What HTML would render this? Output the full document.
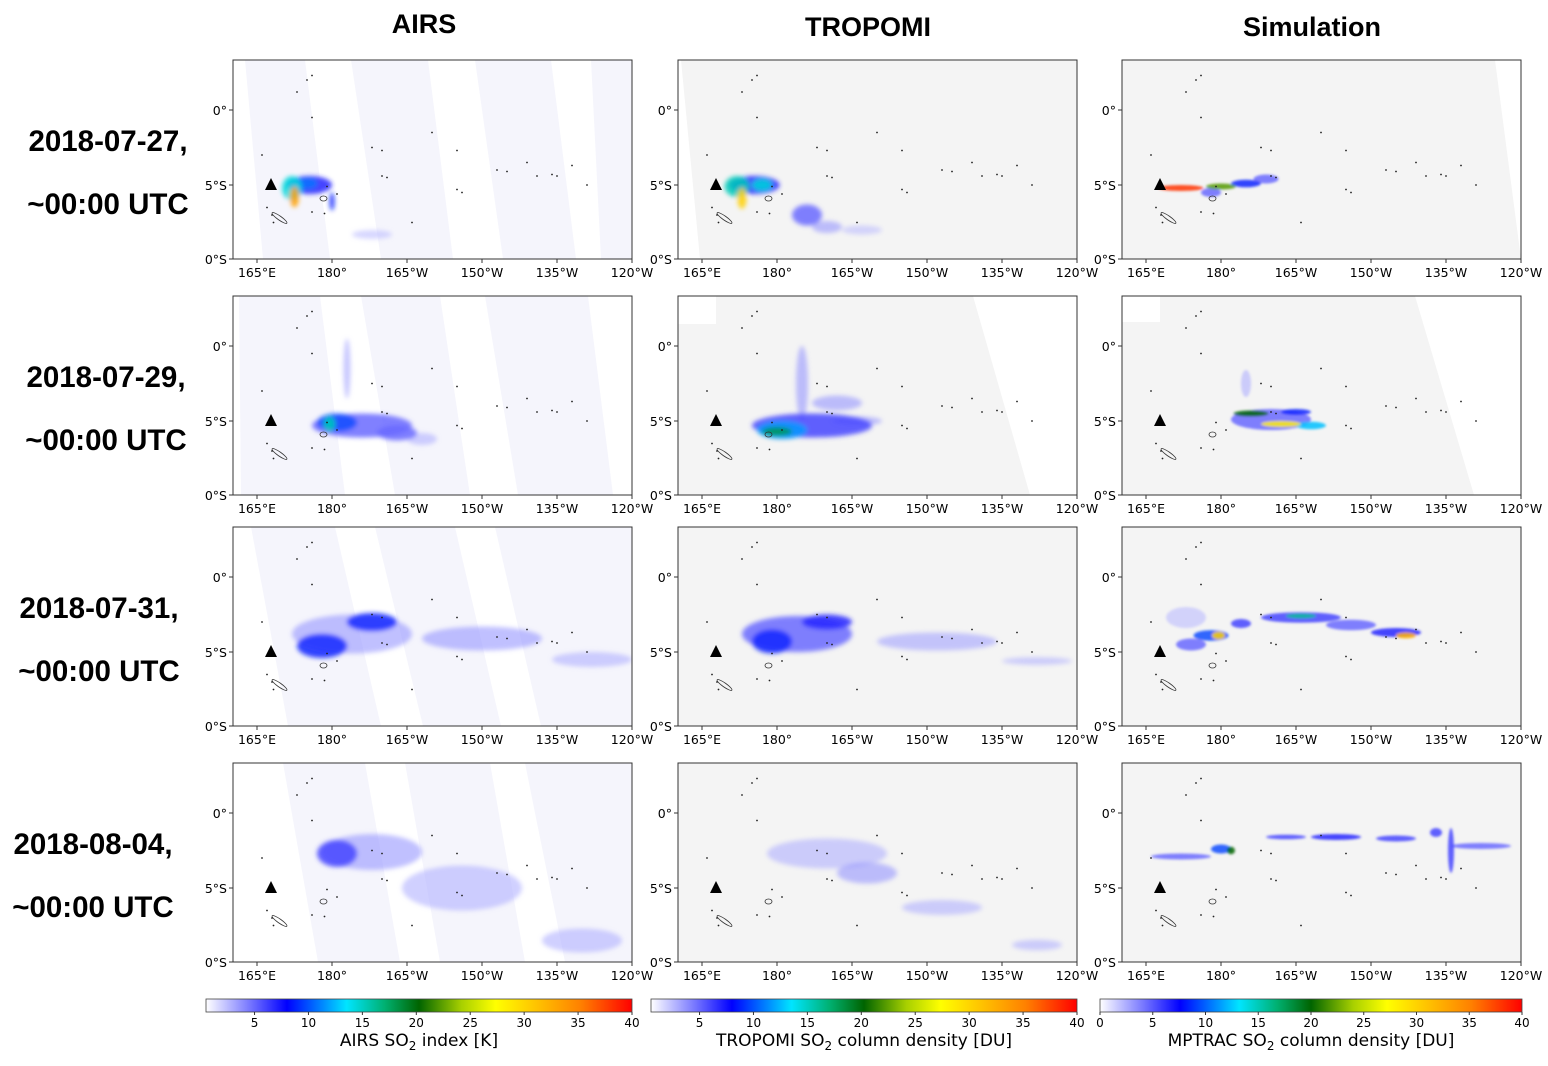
<!DOCTYPE html>
<html><head><meta charset="utf-8">
<style>
html,body{margin:0;padding:0;background:#fff;}
svg{display:block;font-family:"DejaVu Sans","Liberation Sans",sans-serif;}
.t{font-size:12.5px;fill:#000;}
.row{font-family:"Liberation Sans",sans-serif;font-weight:bold;font-size:29.5px;}
.col{font-family:"Liberation Sans",sans-serif;font-weight:bold;font-size:27px;}
</style></head>
<body>
<svg id="fig" width="1548" height="1066" viewBox="0 0 1548 1066" xmlns="http://www.w3.org/2000/svg">
<defs>
<filter id="blurA" x="-50%" y="-50%" width="200%" height="200%"><feGaussianBlur stdDeviation="2.5"/></filter>
<filter id="blurS" x="-50%" y="-50%" width="200%" height="200%"><feGaussianBlur stdDeviation="1.2"/></filter>
<linearGradient id="cmap" x1="0" x2="1" y1="0" y2="0">
<stop offset="0" stop-color="#ffffff"/><stop offset="0.1" stop-color="#7b7bff"/><stop offset="0.19" stop-color="#0000ff"/>
<stop offset="0.33" stop-color="#00e5ff"/><stop offset="0.42" stop-color="#00b070"/><stop offset="0.5" stop-color="#006400"/>
<stop offset="0.6" stop-color="#a8d000"/><stop offset="0.68" stop-color="#ffff00"/><stop offset="0.78" stop-color="#ffc000"/>
<stop offset="0.88" stop-color="#ff8000"/><stop offset="1" stop-color="#ff0000"/>
</linearGradient>
</defs>
</svg>
<script>
// ---- data ----
const columns = ["AIRS","TROPOMI","Simulation"];
const dates = ["2018-07-27,","2018-07-29,","2018-07-31,","2018-08-04,"];
const xTickLabels = ["165°E","180°","165°W","150°W","135°W","120°W"];
const xTickLons = [165,180,195,210,225,240];
const yTickLabels = ["0°","5°S","0°S"];
const yTickLats = [0,-5,-10];
const cbTicks = [[5,10,15,20,25,30,35,40],[5,10,15,20,25,30,35,40],[0,5,10,15,20,25,30,35,40]];
const cbMin = [0.5,0.5,0];
const cbLabels = ["AIRS SO","TROPOMI SO","MPTRAC SO"];
const cbUnits = [" index [K]"," column density [DU]"," column density [DU]"];
// plume blobs: [lon, lat, rx(deg), ry(deg), value]
const plumes = [
 [ // 07-27
  [[175.5,-5.0,4.5,0.6,7],[172,-5.2,2,0.8,14],[175,-4.9,2,0.35,10],[172.5,-5.8,0.9,0.7,33],[180,-6.1,0.5,0.6,8],[188,-8.3,4,0.3,2.5]],
  [[175.5,-5,5,0.6,7],[172,-5.1,2.5,0.7,15],[173,-5.9,0.9,0.7,30],[177,-5,2,0.4,14],[186,-7,3,0.7,5],[190,-7.8,3,0.4,4],[197,-8,4,0.3,2.5]],
  [[172,-5.2,4.5,0.2,38],[180,-5.1,3,0.2,22],[185,-4.9,3,0.25,8],[189,-4.6,2.5,0.3,5],[178,-5.5,2,0.3,5]]
 ],
 [ // 07-29
  [[186,-5.3,10,0.8,5],[181,-5.1,4,0.6,9],[179.5,-5.2,1.2,0.5,15],[183,-1.5,0.7,2,3.5],[193,-5.8,4,0.5,5],[198,-6.2,3,0.4,3]],
  [[187,-5.3,12,0.8,6],[181,-5.6,5,0.6,11],[180,-5.7,3,0.3,18],[185,-2.5,1.2,2.5,4],[192,-3.8,5,0.5,4],[196,-5,5,0.3,4]],
  [[190,-4.9,8,0.7,5],[186,-4.5,3.5,0.2,20],[192,-5.2,4,0.2,28],[185,-2.5,1,0.9,3],[198,-5.3,3,0.25,12],[195,-4.4,3,0.2,8]]
 ],
 [ // 07-31
  [[184,-3.8,12,1.3,4],[178,-4.6,5,0.8,8],[188,-3,5,0.6,8],[210,-4.1,12,0.8,4],[232,-5.5,8,0.5,3]],
  [[184,-3.8,11,1.2,5],[179,-4.3,4,0.8,8],[190,-3,5,0.5,7],[212,-4.3,12,0.6,3.5],[232,-5.6,7,0.25,3]],
  [[173,-2.7,4,0.7,2.5],[174,-4.5,3,0.4,5],[178,-3.9,3.5,0.35,9],[179.5,-3.9,1.3,0.25,30],[184,-3.1,2,0.3,6],[196,-2.7,8,0.35,6],[196,-2.6,3,0.15,16],[206,-3.2,5,0.35,5],[215,-3.7,5,0.3,7],[217,-3.9,2,0.2,32]]
 ],
 [ // 08-04
  [[188,-2.6,10,1.2,4],[181,-2.7,4,0.9,6],[206,-5,12,1.5,3],[230,-8.5,8,0.8,3]],
  [[190,-2.7,12,1.0,3],[198,-4,6,0.7,4],[213,-6.3,8,0.5,3],[232,-8.8,5,0.35,3]],
  [[172,-2.9,6,0.2,5],[180,-2.4,2,0.3,9],[182,-2.5,0.8,0.25,20],[193,-1.6,4,0.15,6],[203,-1.6,5,0.2,7],[215,-1.7,4,0.2,6],[223,-1.3,1.2,0.3,6],[226,-2.5,0.6,1.5,6],[232,-2.2,6,0.2,5]]
 ]
];
// islands [lon, lat]
const islands = [[166,-3],[167,-6.5],[168,-7],[168.3,-7.5],[176,-6.8],[178.5,-6.9],[179,-5.1],[181,-5.6],[190,-4.4],[191,-4.5],[196,-7.5],[200,-1.5],[205,-5.3],[206,-5.5],[213,-4],[215,-4.1],[219,-3.5],[221,-4.4],[224,-4.3],[225,-4.4],[228,-3.7],[231,-5],[173,1.2],[175,2],[176,2.3],[176,-0.5],[188,-2.5],[190,-2.7],[205,-2.7]];

// ---- layout ----
const svg = document.getElementById('fig');
const NS = "http://www.w3.org/2000/svg";
const colX = [233,678,1122], rowY = [60,296,527,763], PW = 399, PH = 199;
const rowLabelX = [108,106,99,93];
function mk(tag, attrs, parent){const e=document.createElementNS(NS,tag);for(const k in attrs)e.setAttribute(k,attrs[k]);(parent||svg).appendChild(e);return e;}
function lonX(x0,lon){return x0+24+(lon-165)*5;}
function latY(y0,lat){return y0+50-lat*15;}
const stops=[[0,[255,255,255]],[4,[140,140,255]],[7.5,[20,20,255]],[13,[0,229,255]],[17,[0,176,112]],[20,[0,100,0]],[24,[168,208,0]],[27,[255,255,0]],[31,[255,192,0]],[35,[255,128,0]],[40,[255,0,0]]];
function cmap(v){for(let i=1;i<stops.length;i++){if(v<=stops[i][0]){const a=stops[i-1],b=stops[i],t=(v-a[0])/(b[0]-a[0]);return 'rgb('+a[1].map((c,j)=>Math.round(c+(b[1][j]-c)*t)).join(',')+')';}}return 'rgb(255,0,0)';}

// swaths (white gaps), panel-relative [[topL,topR],[botL,botR]]
const gaps = [
 [[[0,12],[0,30]],[[72,118],[97,148]],[[195,242],[220,270]],[[318,358],[343,368]]],
 [[[0,6],[0,8]],[[87,128],[112,162]],[[207,252],[237,285]],[[355,399],[380,399]]],
 [[[0,18],[0,55]],[[102,142],[148,190]],[[222,262],[268,308]]],
 [[[0,50],[0,85]],[[132,172],[167,207]],[[257,292],[292,332]]]
];

dates.forEach((d,r)=>{
  const y0=rowY[r];
  const l1=mk('text',{x:rowLabelX[r],y:y0+91,'text-anchor':'middle',class:'row'});l1.textContent=d;
  
  
  const l2=mk('text',{x:rowLabelX[r],y:y0+154,'text-anchor':'middle',class:'row'});l2.textContent='~00:00 UTC';
  
  
  columns.forEach((c,ci)=>{
    const x0=colX[ci];
    const g=mk('g',{});
    
    
    const cid='clip'+r+ci;
    const cp=mk('clipPath',{id:cid},g);mk('rect',{x:x0,y:y0,width:PW,height:PH},cp);
    const inner=mk('g',{'clip-path':'url(#'+cid+')'},g);
    mk('rect',{x:x0,y:y0,width:PW,height:PH,fill:ci==0?'#f5f5fc':'#f4f4f4'},inner);
    if(ci==0){
      gaps[r].forEach(gp=>{mk('polygon',{points:`${x0+gp[0][0]},${y0} ${x0+gp[0][1]},${y0} ${x0+gp[1][1]},${y0+PH} ${x0+gp[1][0]},${y0+PH}`,fill:'#fff'},inner);});
    } else if(ci==1){
      if(r==0){mk('polygon',{points:`${x0},${y0} ${x0+3},${y0} ${x0+22},${y0+PH} ${x0},${y0+PH}`,fill:'#fff'},inner);}
      if(r==1){mk('rect',{x:x0,y:y0,width:38,height:28,fill:'#fff'},inner);
        mk('polygon',{points:`${x0+295},${y0} ${x0+PW},${y0} ${x0+PW},${y0+PH} ${x0+352},${y0+PH}`,fill:'#fff'},inner);}
    } else {
      if(r==0){mk('polygon',{points:`${x0+373},${y0} ${x0+PW},${y0} ${x0+PW},${y0+PH}`,fill:'#fff'},inner);}
      if(r==1){mk('rect',{x:x0,y:y0,width:38,height:26,fill:'#fff'},inner);
        mk('polygon',{points:`${x0+293},${y0} ${x0+PW},${y0} ${x0+PW},${y0+PH} ${x0+352},${y0+PH}`,fill:'#fff'},inner);}
    }
    const pg=mk('g',{filter:ci==2?'url(#blurS)':'url(#blurA)'},inner);
    plumes[r][ci].slice().sort((a,b)=>a[4]-b[4]).forEach((b,bi)=>{
      const e=mk('ellipse',{cx:lonX(x0,b[0]),cy:latY(y0,b[1]),rx:b[2]*5,ry:b[3]*15,fill:cmap(b[4]),opacity:b[4]<5?0.55:0.85},pg);
      
      
    });
    islands.forEach(p=>{mk('circle',{cx:lonX(x0,p[0]),cy:latY(y0,p[1]),r:0.9,fill:'#222'},inner);});
    mk('ellipse',{cx:lonX(x0,169.5),cy:latY(y0,-7.2),rx:9,ry:2,transform:`rotate(35 ${lonX(x0,169.5)} ${latY(y0,-7.2)})`,fill:'none',stroke:'#333','stroke-width':0.8},inner);
    mk('ellipse',{cx:lonX(x0,178.3),cy:latY(y0,-5.9),rx:3.5,ry:2.5,fill:'none',stroke:'#333','stroke-width':0.8},inner);
    const tx=lonX(x0,167.8),ty=latY(y0,-5);
    const tri=mk('polygon',{points:`${tx},${ty-7} ${tx-6},${ty+5} ${tx+6},${ty+5}`,fill:'#000'},inner);
    
    
    mk('rect',{x:x0,y:y0,width:PW,height:PH,fill:'none',stroke:'#333','stroke-width':1},g);
    xTickLons.forEach((lon,i)=>{
      const x=lonX(x0,lon);
      mk('line',{x1:x,x2:x,y1:y0+PH,y2:y0+PH+4,stroke:'#333'},g);
      const t=mk('text',{x:x,y:y0+PH+18,'text-anchor':'middle',class:'t'},g);t.textContent=xTickLabels[i];
      
      
    });
    yTickLats.forEach((lat,i)=>{
      const y=Math.min(latY(y0,lat),y0+PH);
      mk('line',{x1:x0-4,x2:x0,y1:y,y2:y,stroke:'#333'},g);
      const t=mk('text',{x:x0-6,y:y+5,'text-anchor':'end',class:'t'},g);t.textContent=yTickLabels[i];
      
      
    });
  });
});
// column titles
[[424,33],[868,36],[1312,36]].forEach((p,i)=>{
  const t=mk('text',{x:p[0],y:p[1],'text-anchor':'middle',class:'col'});t.textContent=columns[i];
  
  
});
// colorbars
const cbX=[[206,632],[651,1077],[1100,1522]];
cbX.forEach((cx,i)=>{
  const g=mk('g',{});
  
  
  mk('rect',{x:cx[0],y:999,width:cx[1]-cx[0],height:13,fill:'url(#cmap)',stroke:'#444','stroke-width':0.8},g);
  cbTicks[i].forEach(v=>{
    const x=cx[0]+(v-cbMin[i])/(40-cbMin[i])*(cx[1]-cx[0]);
    mk('line',{x1:x,x2:x,y1:1012,y2:1015,stroke:'#333'},g);
    const t=mk('text',{x:x,y:1027,'text-anchor':'middle',class:'t',style:'font-size:12px'},g);t.textContent=v;
    
    
  });
  const lb=mk('text',{x:(cx[0]+cx[1])/2,y:1046,'text-anchor':'middle',style:'font-size:17px'},g);
  lb.innerHTML=cbLabels[i]+'<tspan dy="4" font-size="12">2</tspan><tspan dy="-4">'+cbUnits[i]+'</tspan>';
  
  
});
</script>
</body></html>
